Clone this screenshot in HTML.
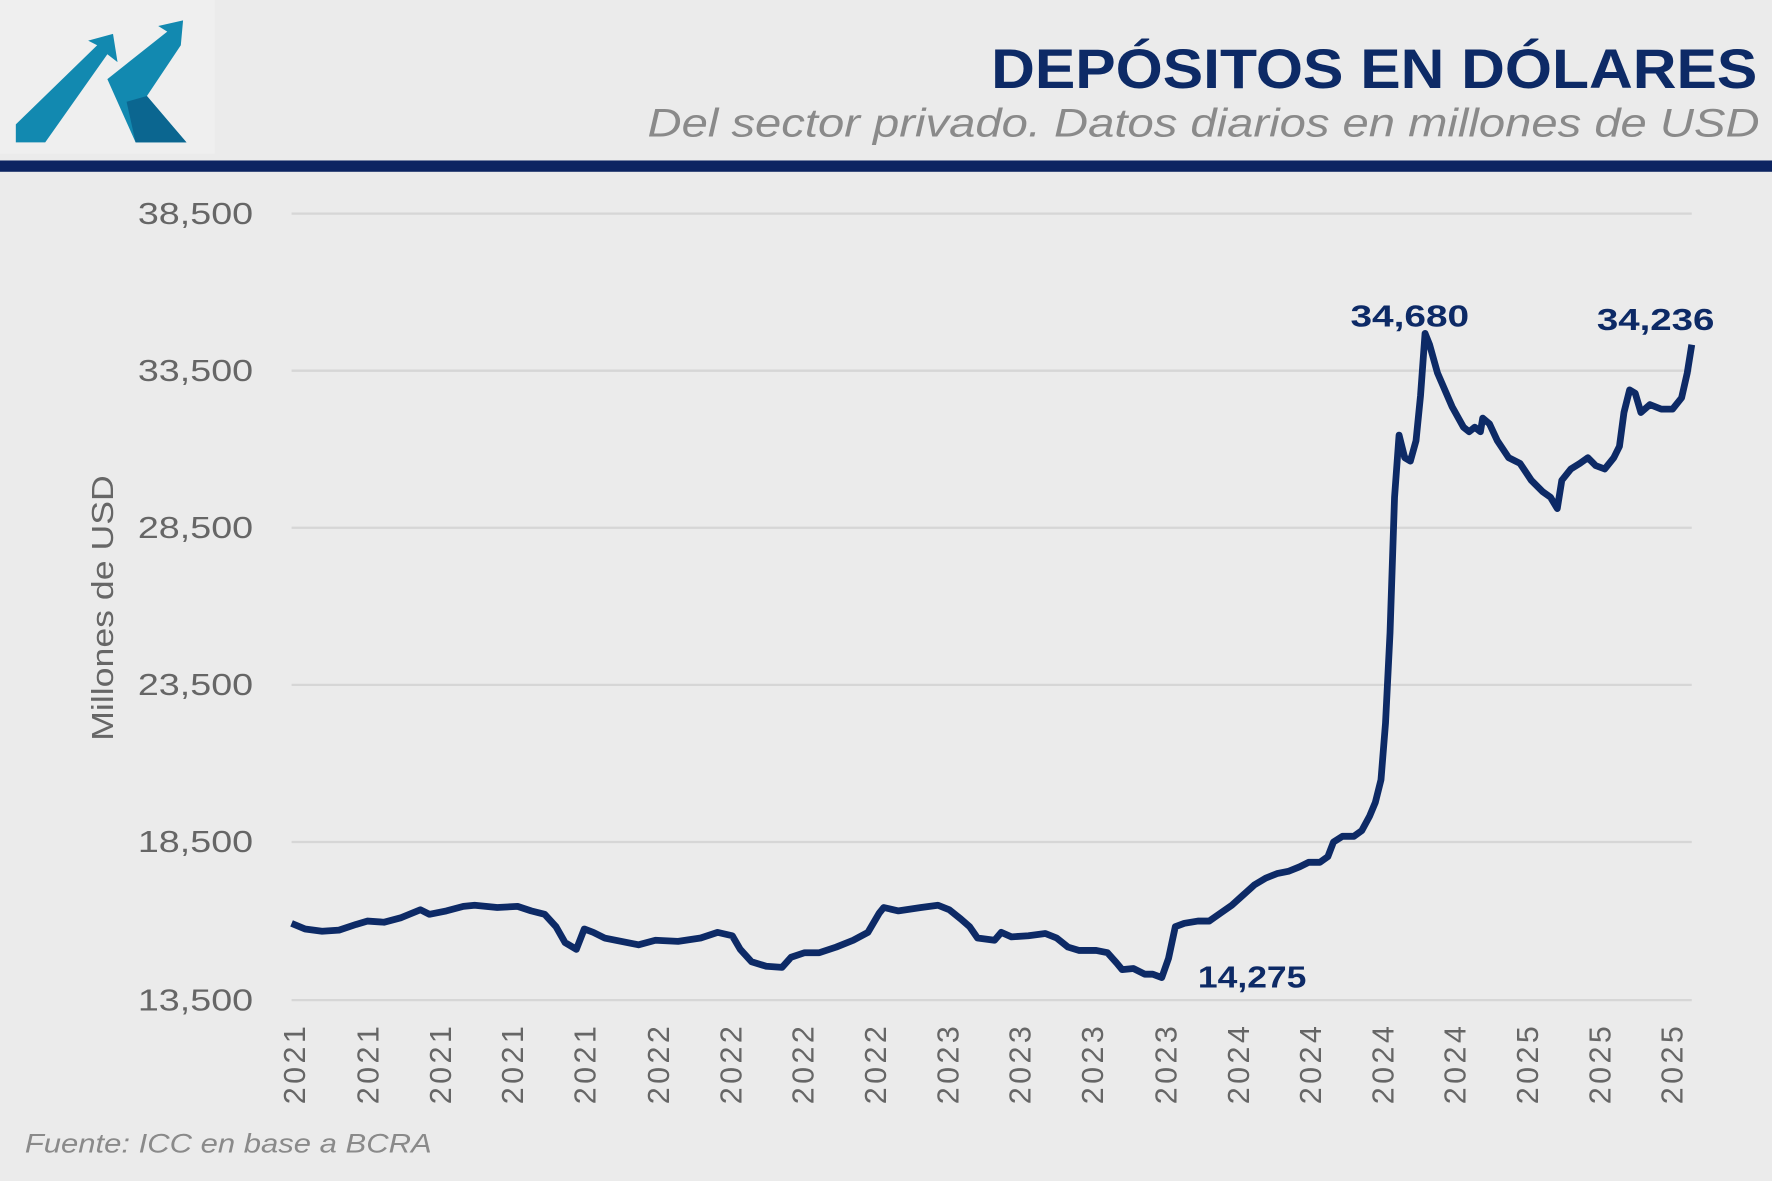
<!DOCTYPE html>
<html><head><meta charset="utf-8"><style>
html,body{margin:0;padding:0;background:#ebebeb;}
svg{display:block;}
text{font-family:"Liberation Sans",sans-serif;}
</style></head><body>
<svg width="1772" height="1181" viewBox="0 0 1568 1045" preserveAspectRatio="none" xmlns="http://www.w3.org/2000/svg">
<rect width="1568" height="1045" fill="#ebebeb"/>
<rect x="0" y="0" width="190" height="136" fill="#efefef"/>
<polygon points="14,126 40,126 95,48 104,55 100,30 78,36 86,40 14,110" fill="#1289b0"/>
<polygon points="95,70 120,126 165,126 130,85 160,40 162,18 140,23 148,28" fill="#1289b0"/>
<polygon points="112,90 120,126 165,126 130,85" fill="#0b6690"/>
<text x="1555" y="78" text-anchor="end" font-size="49" font-weight="bold" fill="#0d2a66" textLength="678" lengthAdjust="spacingAndGlyphs">DEPÓSITOS EN DÓLARES</text>
<text x="1557" y="121" text-anchor="end" font-size="35" font-style="italic" fill="#8a8a8a" textLength="984" lengthAdjust="spacingAndGlyphs">Del sector privado. Datos diarios en millones de USD</text>
<rect x="0" y="142" width="1568" height="10" fill="#0c2461"/>
<g stroke="#d6d6d6" stroke-width="2">
<line x1="258" y1="189" x2="1497" y2="189"/><line x1="258" y1="328" x2="1497" y2="328"/>
<line x1="258" y1="467" x2="1497" y2="467"/><line x1="258" y1="606" x2="1497" y2="606"/>
<line x1="258" y1="745" x2="1497" y2="745"/><line x1="258" y1="885" x2="1497" y2="885"/>
</g>
<g font-size="27" fill="#666" text-anchor="end">
<text x="224" y="198" textLength="102" lengthAdjust="spacingAndGlyphs">38,500</text><text x="224" y="337" textLength="102" lengthAdjust="spacingAndGlyphs">33,500</text>
<text x="224" y="476" textLength="102" lengthAdjust="spacingAndGlyphs">28,500</text><text x="224" y="615" textLength="102" lengthAdjust="spacingAndGlyphs">23,500</text>
<text x="224" y="754" textLength="102" lengthAdjust="spacingAndGlyphs">18,500</text><text x="224" y="894" textLength="102" lengthAdjust="spacingAndGlyphs">13,500</text>
</g>
<text transform="translate(100,538) rotate(-90)" text-anchor="middle" font-size="27" fill="#666" textLength="235" lengthAdjust="spacingAndGlyphs">Millones de USD</text>
<g font-size="27" fill="#666" text-anchor="end" letter-spacing="3">
<text transform="translate(270,905) rotate(-90)">2021</text>
<text transform="translate(335,905) rotate(-90)">2021</text>
<text transform="translate(399,905) rotate(-90)">2021</text>
<text transform="translate(463,905) rotate(-90)">2021</text>
<text transform="translate(527,905) rotate(-90)">2021</text>
<text transform="translate(592,905) rotate(-90)">2022</text>
<text transform="translate(656,905) rotate(-90)">2022</text>
<text transform="translate(720,905) rotate(-90)">2022</text>
<text transform="translate(784,905) rotate(-90)">2022</text>
<text transform="translate(848,905) rotate(-90)">2023</text>
<text transform="translate(912,905) rotate(-90)">2023</text>
<text transform="translate(976,905) rotate(-90)">2023</text>
<text transform="translate(1041,905) rotate(-90)">2023</text>
<text transform="translate(1105,905) rotate(-90)">2024</text>
<text transform="translate(1169,905) rotate(-90)">2024</text>
<text transform="translate(1233,905) rotate(-90)">2024</text>
<text transform="translate(1297,905) rotate(-90)">2024</text>
<text transform="translate(1361,905) rotate(-90)">2025</text>
<text transform="translate(1425,905) rotate(-90)">2025</text>
<text transform="translate(1489,905) rotate(-90)">2025</text>
</g>
<polyline fill="none" stroke="#0d2a66" stroke-width="6" stroke-linejoin="round" points="258,817 270,822 285,824 300,823 315,818 325,815 340,816 355,812 372,805 380,809 395,806 410,802 420,801 440,803 458,802 470,806 482,809 492,820 500,834 510,840 517,822 525,825 535,830 550,833 565,836 580,832 600,833 620,830 635,825 648,828 655,840 665,851 678,855 692,856 700,847 712,843 725,843 740,838 755,832 768,825 778,808 782,803 795,806 815,803 830,801 840,805 850,813 858,820 865,830 880,832 886,825 895,829 910,828 925,826 935,830 945,838 955,841 970,841 980,843 988,852 993,858 1003,857 1013,862 1020,862 1028,865 1034,848 1040,820 1048,817 1060,815 1070,815 1080,808 1090,801 1100,792 1110,783 1120,777 1130,773 1140,771 1150,767 1158,763 1168,763 1175,758 1180,745 1188,740 1198,740 1205,735 1212,722 1217,710 1222,690 1226,640 1230,560 1234,440 1238,385 1243,405 1248,408 1253,390 1257,350 1261,295 1265,305 1272,330 1285,360 1295,378 1300,382 1305,378 1310,382 1312,370 1318,375 1325,390 1335,405 1345,410 1355,425 1365,435 1372,440 1378,450 1382,425 1390,415 1398,410 1405,405 1412,412 1420,415 1428,405 1433,395 1437,365 1442,345 1447,348 1452,365 1460,358 1470,362 1480,362 1488,352 1493,330 1497,305"/>
<g font-size="27" font-weight="bold" fill="#0d2a66">
<text x="1195" y="289" textLength="105" lengthAdjust="spacingAndGlyphs">34,680</text>
<text x="1413" y="292" textLength="104" lengthAdjust="spacingAndGlyphs">34,236</text>
<text x="1060" y="874" textLength="96" lengthAdjust="spacingAndGlyphs">14,275</text>
</g>
<text x="22" y="1020" font-size="24" font-style="italic" fill="#8a8a8a" textLength="360" lengthAdjust="spacingAndGlyphs">Fuente: ICC en base a BCRA</text>
</svg>
</body></html>
